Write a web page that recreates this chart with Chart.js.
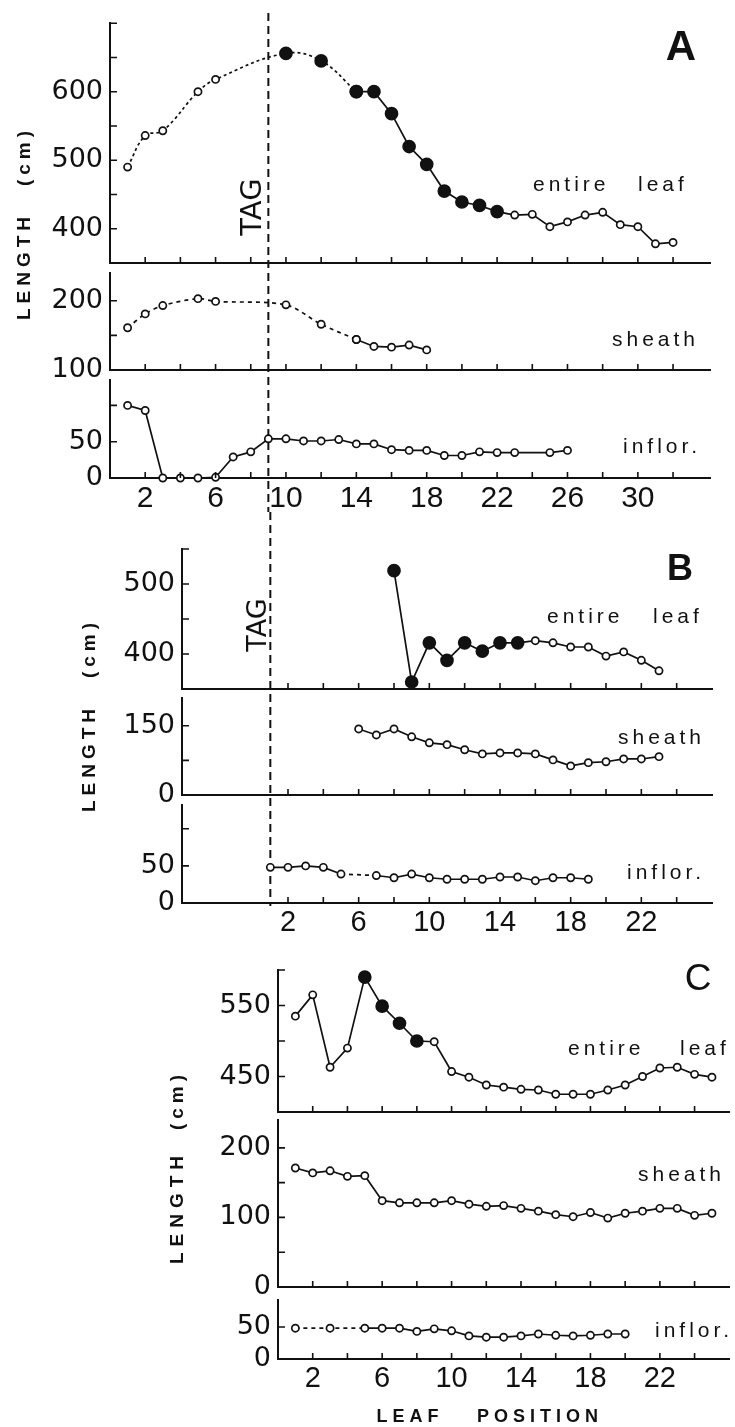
<!DOCTYPE html>
<html>
<head>
<meta charset="utf-8">
<script src="https://cdn.jsdelivr.net/npm/chart.js@4.4.1/dist/chart.umd.min.js"></script>
<style>
html, body { margin: 0; padding: 0; background: #fff; }
#wrap { position: relative; width: 735px; height: 1427px; }
#wrap canvas { position: absolute; left: 0; top: 0; }
</style>
</head>
<body>
<div id="wrap"></div>
<script>
// ---------- data (leaf position vs length, cm) ----------
// Panel A
const aEntireX = [1, 2, 3, 5, 6, 10, 12, 14, 15, 16, 17, 18, 19, 20, 21, 22, 23, 24, 25, 26, 27, 28, 29, 30, 31, 32];
const aEntireY = [490, 536, 543, 600, 618, 656, 645, 600, 600, 568, 520, 494, 455, 439, 434, 425, 420, 421, 403, 410, 420, 424, 406, 403, 378, 380];
const aEntireFilled = [10, 12, 14, 15, 16, 17, 18, 19, 20, 21, 22];
const aSheathX = [1, 2, 3, 5, 6, 10, 12, 14, 15, 16, 17, 18];
const aSheathY = [161, 181, 193, 203, 199, 194, 166, 144, 134, 133, 136, 129];
const aInflorX = [1, 2, 3, 4, 5, 6, 7, 8, 9, 10, 11, 12, 13, 14, 15, 16, 17, 18, 19, 20, 21, 22, 23, 25, 26];
const aInflorY = [100, 93, 0, 0, 0, 1, 29, 36, 54, 54, 51, 51, 53, 47, 47, 39, 38, 38, 31, 31, 36, 35, 35, 35, 38];
const aDottedTo = 14;   // dotted part of entire leaf / sheath ends here
const aTag = 9;

// Panel B
const bEntireX = [8, 9, 10, 11, 12, 13, 14, 15, 16, 17, 18, 19, 20, 21, 22, 23];
const bEntireY = [519, 360, 416, 391, 416, 404, 416, 416, 419, 416, 410, 410, 397, 403, 391, 376];
const bEntireFilled = [8, 9, 10, 11, 12, 13, 14, 15];
const bSheathX = [6, 7, 8, 9, 10, 11, 12, 13, 14, 15, 16, 17, 18, 19, 20, 21, 22, 23];
const bSheathY = [143, 130, 143, 126, 113, 109, 98, 89, 91, 91, 89, 76, 63, 70, 72, 78, 78, 83];
const bInflorX = [1, 2, 3, 4, 5, 7, 8, 9, 10, 11, 12, 13, 14, 15, 16, 17, 18, 19];
const bInflorY = [48, 48, 50, 48, 39, 37, 34, 39, 34, 32, 32, 32, 35, 35, 30, 34, 34, 32];
const bInflorDashed = [[5, 7]];
const bTag = 1;

// Panel C
const cEntireX = [1, 2, 3, 4, 5, 6, 7, 8, 9, 10, 11, 12, 13, 14, 15, 16, 17, 18, 19, 20, 21, 22, 23, 24, 25];
const cEntireY = [535, 565, 463, 490, 590, 549, 525, 500, 499, 457, 449, 438, 435, 432, 431, 425, 425, 425, 431, 438, 450, 462, 463, 453, 449];
const cEntireFilled = [5, 6, 7, 8];
const cSheathX = [1, 2, 3, 4, 5, 6, 7, 8, 9, 10, 11, 12, 13, 14, 15, 16, 17, 18, 19, 20, 21, 22, 23, 24, 25];
const cSheathY = [171, 164, 167, 159, 160, 124, 121, 121, 121, 124, 119, 116, 117, 113, 109, 104, 101, 107, 99, 106, 109, 113, 113, 103, 106];
const cInflorX = [1, 3, 5, 6, 7, 8, 9, 10, 11, 12, 13, 14, 15, 16, 17, 18, 19, 20];
const cInflorY = [48, 48, 48, 48, 48, 43, 47, 44, 36, 34, 34, 36, 39, 37, 36, 37, 39, 39];
const cInflorDashed = [[1, 5]];

// axis ticks
const xTicksA = [2, 4, 6, 8, 10, 12, 14, 16, 18, 20, 22, 24, 26, 28, 30, 32];
const xLabelsA = [2, 6, 10, 14, 18, 22, 26, 30];
const xTicksBC = [2, 4, 6, 8, 10, 12, 14, 16, 18, 20, 22, 24];
const xLabelsBC = [2, 6, 10, 14, 18, 22];

const W = 735, H = 1427;
const INK = '#111';

// draws inward ticks, the TAG line and the free text of a panel
const decor = {
    id: 'decor',
    afterDraw(chart, args, opts) {
        const ctx = chart.ctx;
        const xs = chart.scales.x, ys = chart.scales.y;
        const area = chart.chartArea;
        ctx.save();
        ctx.strokeStyle = INK;
        ctx.lineWidth = 1.6;
        ctx.beginPath();
        xs.ticks.forEach(t => {
            const px = xs.getPixelForValue(t.value);
            ctx.moveTo(px, area.bottom);
            ctx.lineTo(px, area.bottom - 6);
        });
        ys.ticks.forEach(t => {
            if (t.value === ys.min) return;
            const py = ys.getPixelForValue(t.value);
            ctx.moveTo(area.left, py);
            ctx.lineTo(area.left + 7, py);
        });
        ctx.stroke();

        if (opts.tag) {
            const px = xs.getPixelForValue(opts.tag.value);
            ctx.lineWidth = 2;
            ctx.setLineDash([8, 5]);
            ctx.beginPath();
            ctx.moveTo(px, opts.tag.from);
            ctx.lineTo(px, opts.tag.to);
            ctx.stroke();
            ctx.setLineDash([]);
        }

        (opts.labels || []).forEach(l => {
            ctx.save();
            ctx.font = (l.weight || 'normal') + ' ' + l.size + 'px ' + (l.family || '"Liberation Sans", Arial, sans-serif');
            if ('letterSpacing' in ctx) ctx.letterSpacing = (l.spacing || 0) + 'px';
            ctx.fillStyle = INK;
            ctx.textAlign = l.align || 'left';
            ctx.textBaseline = 'middle';
            ctx.translate(l.x, l.y);
            if (l.rotate) ctx.rotate(l.rotate);
            ctx.fillText(l.text, 0, 0);
            ctx.restore();
        });
        ctx.restore();
    }
};
Chart.register(decor);

function pick(xs, ys, lo, hi) {
    const X = [], Y = [];
    xs.forEach((x, i) => { if (x >= lo && x <= hi) { X.push(x); Y.push(ys[i]); } });
    return [X, Y];
}

function series(xs, ys, o) {
    const filled = o.filled || [];
    const dashed = o.dashed || [];
    return {
        data: xs.map((x, i) => ({ x: x, y: ys[i] })),
        borderColor: INK,
        borderWidth: 1.7,
        tension: o.tension || 0,
        borderDash: o.allDashed ? (o.dash || [4, 4]) : [],
        segment: {
            borderDash: c => dashed.some(r => c.p0.parsed.x >= r[0] && c.p1.parsed.x <= r[1]) ? (o.dash || [4, 4]) : undefined
        },
        pointRadius: c => filled.includes(c.raw.x) ? 6 : 3.6,
        pointBackgroundColor: c => filled.includes(c.raw.x) ? INK : '#fff',
        pointBorderColor: INK,
        pointBorderWidth: 1.7,
        clip: false,
        fill: false
    };
}

const yFont = { family: '"DejaVu Sans", sans-serif', size: 27, weight: 'normal' };
const xFontFamily = '"Liberation Sans", Arial, sans-serif';

function makeChart(p) {
    const canvas = document.createElement('canvas');
    canvas.width = W;
    canvas.height = H;
    canvas.style.width = W + 'px';
    canvas.style.height = H + 'px';
    document.getElementById('wrap').appendChild(canvas);
    return new Chart(canvas.getContext('2d'), {
        type: 'line',
        data: { datasets: p.datasets },
        options: {
            responsive: false,
            animation: false,
            devicePixelRatio: 1,
            layout: { padding: { left: 0, top: p.top, right: W - p.right, bottom: 0 } },
            plugins: {
                legend: { display: false },
                tooltip: { enabled: false },
                decor: { tag: p.tag, labels: p.labels }
            },
            scales: {
                x: {
                    type: 'linear',
                    min: p.xMin,
                    max: p.xMax,
                    grid: { display: false, drawTicks: false },
                    border: { display: true, color: INK, width: 2 },
                    afterBuildTicks: s => { s.ticks = p.xTicks.map(v => ({ value: v })); },
                    afterFit: s => { s.height = H - p.bottom; },
                    ticks: {
                        autoSkip: false,
                        maxRotation: 0,
                        padding: 3,
                        color: INK,
                        font: { family: xFontFamily, size: p.xFont || 29, weight: 'normal' },
                        callback: v => (p.xLabels && p.xLabels.includes(v)) ? String(v) : ''
                    }
                },
                y: {
                    type: 'linear',
                    min: p.yMin,
                    max: p.yMax,
                    grid: { display: false, drawTicks: false },
                    border: { display: true, color: INK, width: 2 },
                    afterBuildTicks: s => { s.ticks = p.yTicks.map(v => ({ value: v })); },
                    afterFit: s => { s.width = p.left; },
                    ticks: {
                        autoSkip: false,
                        padding: 7,
                        color: INK,
                        font: yFont,
                        callback: v => p.yLabels.includes(v) ? String(v) : ''
                    }
                }
            }
        }
    });
}

const small = { size: 21, spacing: 4 };
const ROT = -Math.PI / 2;
const tagFont = '"DejaVu Sans", sans-serif';

// ---------- panel A ----------
const A = { left: 110, right: 710, xMin: 0, xMax: 34.1, xTicks: xTicksA };
const [aDotX, aDotY] = pick(aEntireX, aEntireY, 0, aDottedTo);
const [aSolX, aSolY] = pick(aEntireX, aEntireY, aDottedTo, 99);
const [aShDotX, aShDotY] = pick(aSheathX, aSheathY, 0, aDottedTo);
const [aShSolX, aShSolY] = pick(aSheathX, aSheathY, aDottedTo, 99);

makeChart(Object.assign({}, A, {
    top: 15, bottom: 263, yMin: 350, yMax: 700,
    yTicks: [400, 450, 500, 550, 600, 650, 700], yLabels: [400, 500, 600],
    datasets: [
        series(aDotX, aDotY, { filled: aEntireFilled, tension: 0.4, allDashed: true, dash: [3, 3] }),
        series(aSolX, aSolY, { filled: aEntireFilled })
    ],
    tag: { value: aTag, from: 13, to: 512 },
    labels: [
        { text: 'A', x: 681, y: 48, size: 42, weight: 'bold', align: 'center' },
        { text: 'entire', x: 533, y: 185, size: small.size, spacing: small.spacing },
        { text: 'leaf', x: 638, y: 185, size: small.size, spacing: small.spacing },
        { text: 'TAG', x: 253, y: 207, size: 29, rotate: ROT, align: 'center', family: tagFont },
        { text: 'LENGTH', x: 25, y: 266, size: 19, weight: 'bold', spacing: 5, rotate: ROT, align: 'center' },
        { text: '(cm)', x: 25, y: 156, size: 19, weight: 'bold', spacing: 5, rotate: ROT, align: 'center' }
    ]
}));
makeChart(Object.assign({}, A, {
    top: 273, bottom: 370, yMin: 100, yMax: 240,
    yTicks: [100, 150, 200], yLabels: [100, 200],
    datasets: [
        series(aShDotX, aShDotY, { tension: 0.3, allDashed: true, dash: [4, 4] }),
        series(aShSolX, aShSolY, {})
    ],
    labels: [{ text: 'sheath', x: 612, y: 340, size: small.size, spacing: small.spacing }]
}));
makeChart(Object.assign({}, A, {
    top: 380, bottom: 478, yMin: 0, yMax: 135,
    yTicks: [0, 50, 100], yLabels: [0, 50],
    xLabels: xLabelsA, xFont: 30,
    datasets: [series(aInflorX, aInflorY, {})],
    labels: [{ text: 'inflor.', x: 623, y: 447, size: small.size, spacing: small.spacing }]
}));

// ---------- panel B ----------
const B = { left: 182, right: 712, xMin: -4, xMax: 26, xTicks: xTicksBC };
makeChart(Object.assign({}, B, {
    top: 549, bottom: 689, yMin: 350, yMax: 550,
    yTicks: [400, 450, 500, 550], yLabels: [400, 500],
    datasets: [series(bEntireX, bEntireY, { filled: bEntireFilled })],
    tag: { value: bTag, from: 512, to: 906 },
    labels: [
        { text: 'B', x: 680, y: 570, size: 36, weight: 'bold', align: 'center' },
        { text: 'entire', x: 547, y: 617, size: small.size, spacing: small.spacing },
        { text: 'leaf', x: 653, y: 617, size: small.size, spacing: small.spacing },
        { text: 'TAG', x: 259, y: 625, size: 27, rotate: ROT, align: 'center', family: tagFont },
        { text: 'LENGTH', x: 90, y: 758, size: 19, weight: 'bold', spacing: 5, rotate: ROT, align: 'center' },
        { text: '(cm)', x: 90, y: 648, size: 19, weight: 'bold', spacing: 5, rotate: ROT, align: 'center' }
    ]
}));
makeChart(Object.assign({}, B, {
    top: 698, bottom: 795, yMin: 0, yMax: 210,
    yTicks: [0, 75, 150], yLabels: [0, 150],
    datasets: [series(bSheathX, bSheathY, {})],
    labels: [{ text: 'sheath', x: 618, y: 738, size: small.size, spacing: small.spacing }]
}));
makeChart(Object.assign({}, B, {
    top: 805, bottom: 903, yMin: 0, yMax: 132,
    yTicks: [0, 50, 100], yLabels: [0, 50],
    xLabels: xLabelsBC, xFont: 29,
    datasets: [series(bInflorX, bInflorY, { dashed: bInflorDashed })],
    labels: [{ text: 'inflor.', x: 627, y: 873, size: small.size, spacing: small.spacing }]
}));

// ---------- panel C ----------
const C = { left: 278, right: 733, xMin: 0, xMax: 26, xTicks: xTicksBC };
makeChart(Object.assign({}, C, {
    top: 970, bottom: 1112, yMin: 400, yMax: 600,
    yTicks: [450, 500, 550, 600], yLabels: [450, 550],
    datasets: [series(cEntireX, cEntireY, { filled: cEntireFilled })],
    labels: [
        { text: 'C', x: 698, y: 980, size: 37, align: 'center' },
        { text: 'entire', x: 568, y: 1049, size: small.size, spacing: small.spacing },
        { text: 'leaf', x: 680, y: 1049, size: small.size, spacing: small.spacing },
        { text: 'LENGTH', x: 178, y: 1207, size: 19, weight: 'bold', spacing: 6, rotate: ROT, align: 'center' },
        { text: '(cm)', x: 178, y: 1100, size: 19, weight: 'bold', spacing: 5, rotate: ROT, align: 'center' }
    ]
}));
makeChart(Object.assign({}, C, {
    top: 1120, bottom: 1287, yMin: 0, yMax: 240,
    yTicks: [0, 50, 100, 150, 200], yLabels: [0, 100, 200],
    datasets: [series(cSheathX, cSheathY, {})],
    labels: [{ text: 'sheath', x: 638, y: 1175, size: small.size, spacing: small.spacing }]
}));
makeChart(Object.assign({}, C, {
    top: 1300, bottom: 1359, yMin: 0, yMax: 92,
    yTicks: [0, 50], yLabels: [0, 50],
    xLabels: xLabelsBC, xFont: 29,
    datasets: [series(cInflorX, cInflorY, { dashed: cInflorDashed })],
    labels: [
        { text: 'inflor.', x: 655, y: 1331, size: small.size, spacing: small.spacing },
        { text: 'LEAF', x: 410, y: 1417, size: 18, weight: 'bold', spacing: 5, align: 'center' },
        { text: 'POSITION', x: 540, y: 1417, size: 18, weight: 'bold', spacing: 5, align: 'center' }
    ]
}));
</script>
</body>
</html>
